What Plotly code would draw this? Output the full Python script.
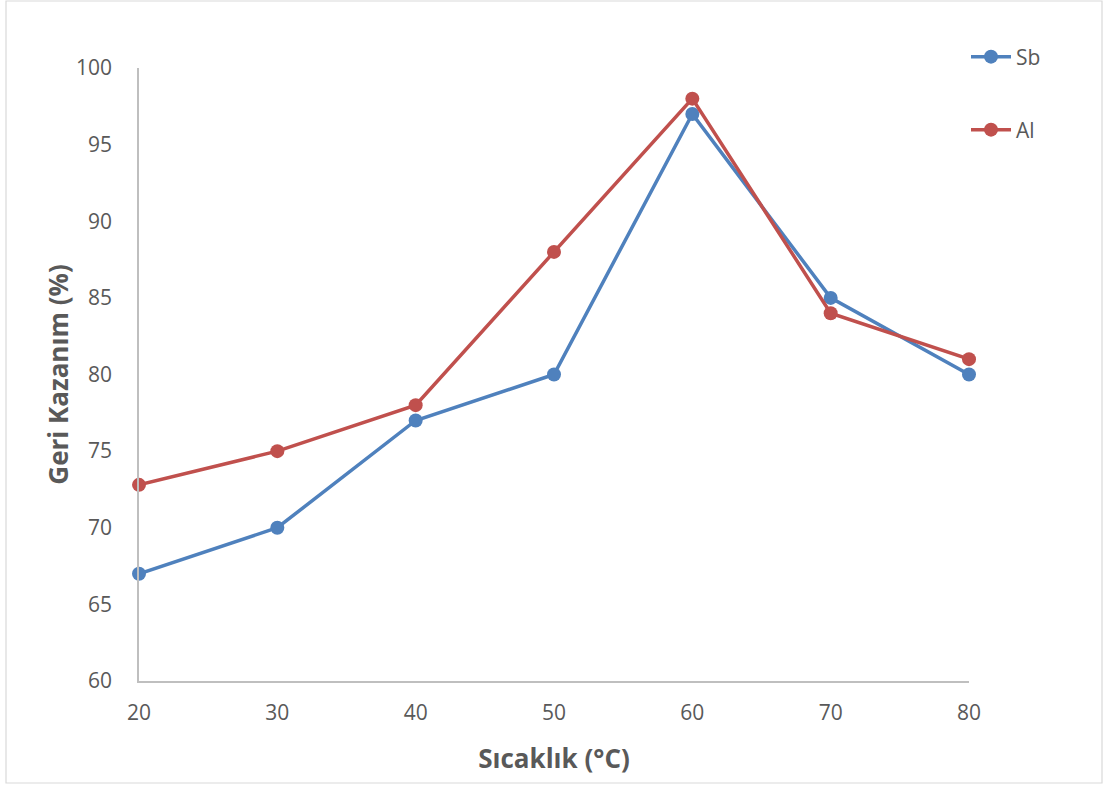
import plotly.graph_objects as go

# Temperature (°C) and recovery (%) per element
sicaklik = [20, 30, 40, 50, 60, 70, 80]
sb_values = [67, 70, 77, 80, 97, 85, 80]
al_values = [72.8, 75, 78, 88, 98, 84, 81]

x_ticks = [20, 30, 40, 50, 60, 70, 80]
y_ticks = [60, 65, 70, 75, 80, 85, 90, 95, 100]

W, H = 1107, 785
L, R, T, B = 139, 138, 68, 104
pw, ph = W - L - R, H - T - B

FONT = "Open Sans, sans-serif"
GRAY = "#595959"

fig = go.Figure()
fig.add_trace(go.Scatter(
    x=sicaklik, y=sb_values, name="Sb", mode="lines+markers",
    line=dict(color="#4F81BD", width=3.5),
    marker=dict(color="#4F81BD", size=14),
    cliponaxis=False, legend="legend",
))
fig.add_trace(go.Scatter(
    x=sicaklik, y=al_values, name="Al", mode="lines+markers",
    line=dict(color="#C0504D", width=3.5),
    marker=dict(color="#C0504D", size=14),
    cliponaxis=False, legend="legend2",
))

def px_x(px):
    return (px - L) / pw

def px_y(py):
    return 1 - (py - T) / ph

# chart border
fig.add_shape(type="rect", xref="paper", yref="paper",
              x0=px_x(6), x1=px_x(1102), y0=px_y(783), y1=px_y(1),
              line=dict(color="#D9D9D9", width=1.2), layer="below")

legend_style = dict(
    font=dict(family=FONT, size=21, color=GRAY),
    bgcolor="rgba(0,0,0,0)", xanchor="left", yanchor="middle",
    itemwidth=40,
)

fig.update_layout(
    width=W, height=H,
    margin=dict(l=L, r=R, t=T, b=B),
    paper_bgcolor="white", plot_bgcolor="white",
    font=dict(family=FONT, color=GRAY),
    showlegend=True,
    legend=dict(x=px_x(966), y=px_y(57), **legend_style),
    legend2=dict(x=px_x(966), y=px_y(130), **legend_style),
    xaxis=dict(
        range=[20, 80], tickvals=x_ticks, showgrid=False, zeroline=False,
        showline=True, linecolor="#BFBFBF", linewidth=1.5,
        ticks="", tickfont=dict(size=21, color=GRAY, family=FONT),
        ticklabelstandoff=12,
        title=dict(text="<b>Sıcaklık (°C)</b>", font=dict(size=26, color=GRAY, family=FONT), standoff=25),
    ),
    yaxis=dict(
        range=[60, 100], tickvals=y_ticks, showgrid=False, zeroline=False,
        showline=True, linecolor="#BFBFBF", linewidth=1.5,
        ticks="", tickfont=dict(size=21, color=GRAY, family=FONT),
        ticklabelstandoff=21,
        title=dict(text="<b>Geri Kazanım (%)</b>", font=dict(size=26, color=GRAY, family=FONT), standoff=0),
    ),
)

fig.write_html("out.html")
